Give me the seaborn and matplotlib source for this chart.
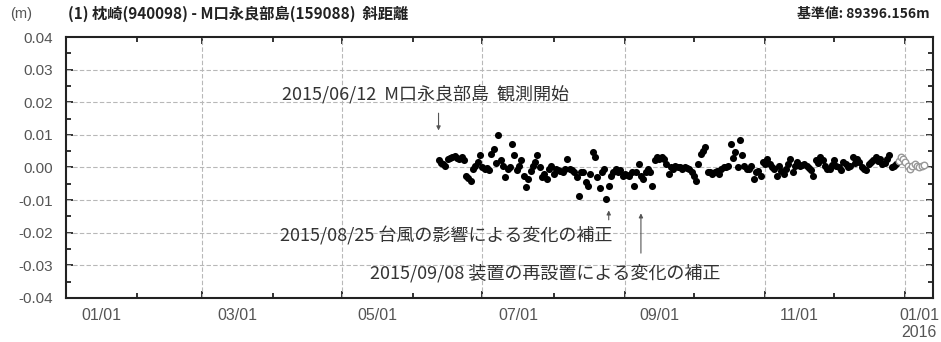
import seaborn as sns
import matplotlib.pyplot as plt
import matplotlib.dates as mdates
from matplotlib.ticker import MultipleLocator, FormatStrFormatter
import pandas as pd
import numpy as np

# daily slope distance change (mm), from 2015/06/12
final_mm = [
    2.2, 1.5, 1.1, 0.4, 2.7, 3.0, 3.2, 3.5, 3.0, 2.7,
    3.2, 2.2, -2.5, -3.3, -4.0, -0.4, 0.6, 1.6, 3.7, 0.1,
    -0.4, -0.2, -0.9, 4.2, 5.6, 1.5, 9.9, 2.2, 0.6, -3.0,
    -0.4, 0.1, 7.3, 3.7, -0.9, 0.5, 2.2, -2.5, -6.1, -3.5,
    -1.0, 0.6, 1.6, 3.7, 0.1, -3.0, -2.0, -3.5, -0.4, 0.6,
    -2.0, -0.4,
    -0.9, -1.0, -1.4, -0.5, 2.7, -0.4, -0.9, -1.5, -3.0, -8.7,
    -1.5, -1.4, -4.5, -5.6, -2.0, 4.7, 3.2, -3.0, -6.4, -1.4,
    -0.4, -9.7, -5.6, -2.5, -1.4, -0.4, -1.5, -0.9, -2.5, -2.0,
    -2.2, -2.5, -1.5, -5.6, -1.4, 1.1, -2.5, -3.5, -1.5, -0.4,
    -1.5, -5.6, 2.2, 3.2, 2.7, 3.2, 2.7, 1.0, -2.0, 0.1,
    -0.4, 0.6, 0.2, 0.1,
    -0.4, 0.1, -0.2, -0.4, -1.4, -2.5, -4.0, 1.1, 4.2, 5.0,
    6.3, -1.4, -1.5, -2.0, -1.4, -1.0, -2.0, -0.4, 0.1, 0.3,
    0.6, 7.3, 3.0, 4.7, 0.1, 8.3, 3.7, 0.6, -0.4, -0.4,
    0.6, -3.5, -1.4, -1.0, -2.5, 1.6, 1.0, 2.7, 1.1, 0.3,
    -0.4, -2.5, 0.6, -1.0, -2.0, -0.4, 1.0, 2.7, -1.4, 0.5,
    1.6, 0.6, 0.8, 1.1,
    0.6, -0.2, -0.9, -2.5, 2.2, 1.5, 3.2, 2.2, 0.5, -0.4,
    -0.4, 0.8, 2.2, 0.6, 0.1, -0.9, 1.6, 1.1, 0.1, 0.5,
    3.2, 1.5, 2.7, 1.6, 0.1, -0.5, -0.9, 1.0, 1.6, 2.2,
    3.2, 2.0, 2.7, 1.1, 1.5, 2.7, 3.7, 0.1, 0.6, 1.0,
]
# provisional values (grey open circles)
prelim_mm = [2.0, 3.2, 2.7, 1.6, 0.6, -0.4, 0.5, 1.1, 0.6, 0.1, 0.6, 0.8]

start = pd.Timestamp("2015-06-12")
x_start, x_end = pd.Timestamp("2015-01-01"), pd.Timestamp("2016-01-13")
month_labels = ["01/01", "03/01", "05/01", "07/01", "09/01", "11/01", "01/01\n2016"]
label_months = ["2015-01-01", "2015-03-01", "2015-05-01", "2015-07-01",
                "2015-09-01", "2015-11-01", "2016-01-01"]

final = pd.DataFrame({
    "date": pd.date_range(start, periods=len(final_mm), freq="D"),
    "value": np.array(final_mm) / 1000,
})
prelim = pd.DataFrame({
    "date": pd.date_range(final["date"].iloc[-1] + pd.Timedelta(days=1),
                          periods=len(prelim_mm), freq="D"),
    "value": np.array(prelim_mm) / 1000,
})

sns.set_style("ticks")
plt.rcParams['font.family'] = ['Noto Sans CJK JP', 'DejaVu Sans']
num_font = ['Liberation Sans', 'DejaVu Sans']
grey = '#555555'

fig = plt.figure(figsize=(9.41, 3.42), dpi=100)
ax = fig.add_axes([0.0701, 0.1287, 0.9214, 0.7631])

sns.scatterplot(data=final, x="date", y="value", color="black", s=26,
                edgecolor="black", linewidth=0, ax=ax, zorder=3)
sns.scatterplot(data=prelim, x="date", y="value", s=22, facecolor="white",
                edgecolor="#999999", linewidth=1.0, ax=ax, zorder=3)

ax.set_xlim(x_start, x_end)
ax.set_ylim(-0.04, 0.04)
ax.set_xlabel("")
ax.set_ylabel("")

ax.yaxis.set_major_locator(MultipleLocator(0.01))
ax.yaxis.set_minor_locator(MultipleLocator(0.005))
ax.yaxis.set_major_formatter(FormatStrFormatter('%.2f'))
ax.xaxis.set_major_locator(mdates.MonthLocator(bymonth=[1, 3, 5, 7, 9, 11]))
ax.xaxis.set_minor_locator(mdates.MonthLocator(bymonth=[2, 4, 6, 8, 10, 12]))
ax.xaxis.set_major_formatter(plt.NullFormatter())

ax.tick_params(which='both', direction='in', top=True, right=True, color='#222222')
ax.tick_params(which='major', length=5, width=1.3)
ax.tick_params(which='minor', length=3.5, width=1.3)
ax.tick_params(axis='y', labelsize=11, labelcolor=grey, pad=9)
for lab in ax.get_yticklabels():
    lab.set_family(num_font)
for sp in ax.spines.values():
    sp.set_linewidth(1.5)
    sp.set_color('#222222')

# dashed grid
for y in [-0.03, -0.02, -0.01, 0.0, 0.01, 0.02, 0.03]:
    ax.axhline(y, color='#b8b8b8', lw=0.8, ls=(0, (4, 2)), zorder=1)
for m in ["2015-03-01", "2015-05-01", "2015-07-01", "2015-09-01", "2015-11-01", "2016-01-01"]:
    ax.axvline(pd.Timestamp(m), color='#b8b8b8', lw=0.8, ls=(0, (4, 2)), zorder=1)

# month labels centred on the month
for lab, m in zip(month_labels, label_months):
    m0 = pd.Timestamp(m)
    m1 = min(m0 + pd.offsets.MonthBegin(1), x_end)
    xc = m0 + (m1 - m0) / 2
    ax.annotate(lab, xy=(xc, 0), xycoords=('data', 'axes fraction'),
                xytext=(0, -7), textcoords='offset points', ha='center', va='top',
                fontsize=11.5, color=grey, family=num_font, linespacing=1.15)

# event notes
txt = dict(fontsize=13, color='#333333')
arr = dict(arrowstyle='-|>', color='#555555', lw=0.8, mutation_scale=6)
ax.text(pd.Timestamp("2015-04-05"), 0.0222, "2015/06/12  M口永良部島  観測開始", va='center', **txt)
ax.annotate("", xy=(pd.Timestamp("2015-06-12"), 0.0105), xytext=(pd.Timestamp("2015-06-12"), 0.0175),
            arrowprops=arr)
ax.text(pd.Timestamp("2015-04-04"), -0.0209, "2015/08/25 台風の影響による変化の補正", va='center', **txt)
ax.annotate("", xy=(pd.Timestamp("2015-08-25"), -0.0123), xytext=(pd.Timestamp("2015-08-25"), -0.0169),
            arrowprops=arr)
ax.text(pd.Timestamp("2015-05-13"), -0.0323, "2015/09/08 装置の再設置による変化の補正", va='center', **txt)
ax.annotate("", xy=(pd.Timestamp("2015-09-08"), -0.0132), xytext=(pd.Timestamp("2015-09-08"), -0.0271),
            arrowprops=arr)

# header
fig.text(10 / 941, 1 - 14 / 342, "(m)", fontsize=10.5, color=grey, va='center', family=num_font)
fig.text(68 / 941, 1 - 14 / 342, "(1) 枕崎(940098) - M口永良部島(159088)  斜距離",
         fontsize=11, fontweight='bold', va='center', color='#222222')
fig.text(930 / 941, 1 - 14 / 342, "基準値: 89396.156m", fontsize=10, fontweight='bold',
         va='center', ha='right', color='#222222')

fig.savefig("out.png", dpi=100)
